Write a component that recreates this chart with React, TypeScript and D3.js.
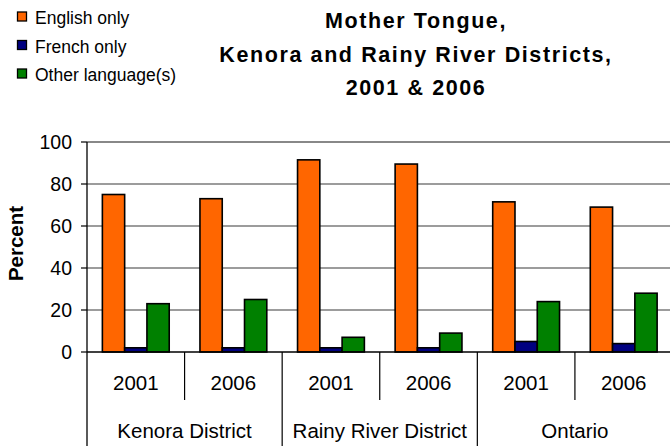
import React from "react";
import * as d3 from "d3";

const groups = ["Kenora District", "Rainy River District", "Ontario"];
const years = ["2001", "2006"];
const seriesNames = ["English only", "French only", "Other language(s)"];
const seriesColors = ["#FF6600", "#000080", "#008000"];
const englishOnly = [75, 73, 91.5, 89.5, 71.5, 69];
const frenchOnly = [2, 2, 2, 2, 5, 4];
const otherLanguages = [23, 25, 7, 9, 24, 28];
const yTicks = [0, 20, 40, 60, 80, 100];
const titleLines = ["Mother Tongue,", "Kenora and Rainy River Districts,", "2001 & 2006"];

export default function App() {
  const W = 670, H = 446;
  const left = 87, right = 672.5, top = 142, bottom = 352;
  const cats = groups.flatMap((g) => years.map((y) => `${g}|${y}`));
  const x = d3.scaleBand<string>().domain(cats).range([left, right]).paddingInner(0).paddingOuter(0);
  const inner = d3.scaleBand<string>().domain(seriesNames).range([0, x.bandwidth()]).paddingInner(0).paddingOuter(0.69);
  const y = d3.scaleLinear().domain([0, 100]).range([bottom, top]);
  const series = [englishOnly, frenchOnly, otherLanguages];
  const font = "Arial, 'Liberation Sans', sans-serif";

  return (
    <svg width={W} height={H} style={{ position: "absolute", left: 0, top: 0, background: "#fff" }} fontFamily={font}>
      {/* gridlines */}
      {yTicks.filter((t) => t > 0).map((t) => (
        <line key={t} x1={left} x2={W} y1={y(t)} y2={y(t)} stroke={t === 100 ? "#888" : "#3a3a3a"} strokeWidth={t === 100 ? 2 : 1.2} />
      ))}
      {/* y ticks and labels */}
      {yTicks.map((t) => (
        <g key={t}>
          <line x1={81} x2={left} y1={y(t)} y2={y(t)} stroke="#000" strokeWidth={1.2} />
          <text x={72} y={y(t)} textAnchor="end" dominantBaseline="central" fontSize={19.5} fill="#000">{t}</text>
        </g>
      ))}
      {/* bars */}
      {cats.map((c, i) => (
        <g key={c}>
          {series.map((vals, s) => (
            <rect key={s} x={(x(c) as number) + (inner(seriesNames[s]) as number)} y={y(vals[i])} width={inner.bandwidth()} height={y(0) - y(vals[i])}
              fill={seriesColors[s]} stroke="#000" strokeWidth={1.6} />
          ))}
        </g>
      ))}
      {/* axes */}
      <line x1={left} x2={W} y1={bottom} y2={bottom} stroke="#000" strokeWidth={1.3} />
      <line x1={left} x2={left} y1={top} y2={H} stroke="#000" strokeWidth={1.3} />
      {cats.map((c, i) => {
        const xr = (x(c) as number) + x.bandwidth();
        const isGroupEnd = i % 2 === 1;
        return <line key={c} x1={xr} x2={xr} y1={bottom} y2={isGroupEnd ? H : 400} stroke="#000" strokeWidth={1.2} />;
      })}
      {cats.map((c, i) => (
        <text key={c} x={(x(c) as number) + x.bandwidth() / 2} y={390} textAnchor="middle" fontSize={20.5} fill="#000">{years[i % 2]}</text>
      ))}
      {groups.map((g, gi) => (
        <text key={g} x={(x(`${g}|${years[0]}`) as number) + x.bandwidth()} y={438} textAnchor="middle" fontSize={20.5} fill="#000">{g}</text>
      ))}
      {/* y axis title */}
      <text transform={`translate(23,${243.5}) rotate(-90)`} textAnchor="middle" fontSize={20.5} fontWeight="bold" fill="#000">Percent</text>
      {/* title */}
      {titleLines.map((t, i) => (
        <text key={t} x={416} y={28 + i * 33.5} textAnchor="middle" fontSize={21.5} fontWeight="bold" letterSpacing={1.6} fill="#000">{t}</text>
      ))}
      {/* legend */}
      {seriesNames.map((s, i) => (
        <g key={s}>
          <rect x={17.5} y={12 + i * 28.5} width={9} height={9} fill={seriesColors[i]} stroke="#000" strokeWidth={1.3} />
          <text x={35} y={24 + i * 28.6} fontSize={17.5} fill="#000">{s}</text>
        </g>
      ))}
    </svg>
  );
}
